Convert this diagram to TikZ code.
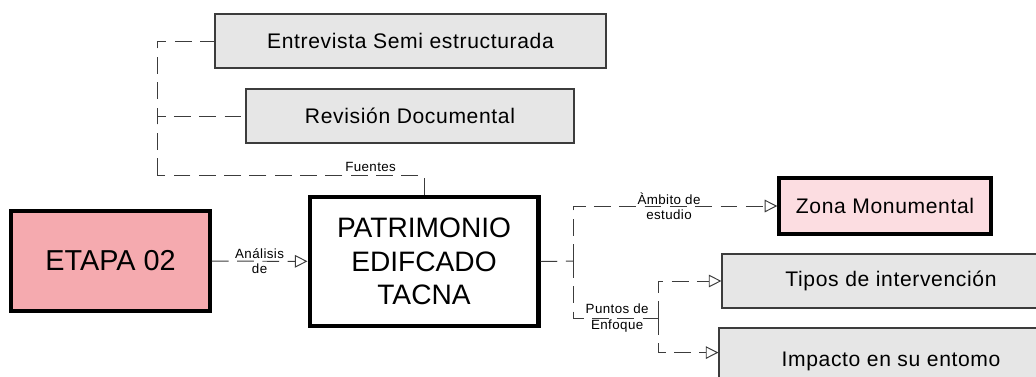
\documentclass[tikz,border=0pt]{standalone}
\usepackage{fontspec}
\setmainfont{Liberation Sans}
\newfontfamily\spacedfont[LetterSpace=3]{Liberation Sans}
\usetikzlibrary{arrows.meta}
\definecolor{boxgray}{RGB}{230,230,230}
\definecolor{etapapink}{RGB}{245,170,175}
\definecolor{zonapink}{RGB}{252,221,225}
\definecolor{linegray}{RGB}{60,60,60}

\begin{document}
\begin{tikzpicture}[x=0.025cm,y=-0.025cm,
    graybox/.style={draw=linegray,fill=boxgray,line width=0.8pt,minimum height=1.35cm,
      font=\spacedfont\fontsize{15}{18}\selectfont},
    link/.style={draw=linegray,line width=0.7pt,dash pattern=on 12pt off 6pt},
    tip/.style={-{Triangle[open,length=9pt,width=9pt]}},
    lbl/.style={font=\spacedfont\fontsize{9.5}{11}\selectfont,align=center,inner sep=0pt}]
\clip (0,0) rectangle (1036,376);
\node [graybox,minimum width=9.775cm] (entrevista) at (410.5,41) {Entrevista Semi estructurada};
\node [graybox,minimum width=8.2cm] (revision) at (410,116) {Revisi\'on Documental};
\node [draw,fill=etapapink,line width=2.4pt,minimum width=4.975cm,minimum height=2.5cm,
  font=\fontsize{20.5}{24}\selectfont] (etapa) at (110.5,261) {ETAPA 02};
\node [draw,fill=white,line width=3.5pt,minimum width=5.7cm,minimum height=3.225cm,align=center,
  font=\fontsize{20}{24}\selectfont] (patrimonio) at (424,261.5) {PATRIMONIO\\EDIFCADO\\TACNA};
\node [draw,fill=zonapink,line width=2.4pt,minimum width=5.3cm,minimum height=1.4cm,
  font=\spacedfont\fontsize{15}{18}\selectfont] (zona) at (885,206) {Zona Monumental};
\node [graybox,minimum width=8.45cm] (tipos) at (891,281) {Tipos de intervenci\'on};
\node [graybox,minimum width=8.6cm,minimum height=1.65cm] (impacto) at (891,361) {Impacto en su entomo};
\coordinate (fl) at (157,175);
\coordinate (jr) at (573,261);
\coordinate (jb) at (658,318);
\draw [link] (patrimonio.north) |- node [lbl,pos=0.6,above=2pt] {Fuentes} (fl);
\foreach \Box in {entrevista,revision}
  \draw [link] (fl) |- (\Box.west);
\draw [link,tip] (etapa) -- node [lbl] {An\'alisis\\de} (patrimonio);
\draw [link] (patrimonio.east) -- (jr);
\draw [link,tip] (jr) |- node [lbl,pos=0.735] {\`Ambito de\\estudio} (zona.west);
\draw [link] (jr) |- node [lbl,pos=0.76] {Puntos de\\Enfoque} (jb);
\draw [link,tip] (jb) |- (tipos.west);
\draw [link,tip] (jb) |- ([yshift=6pt]impacto.west);
\end{tikzpicture}
\end{document}
